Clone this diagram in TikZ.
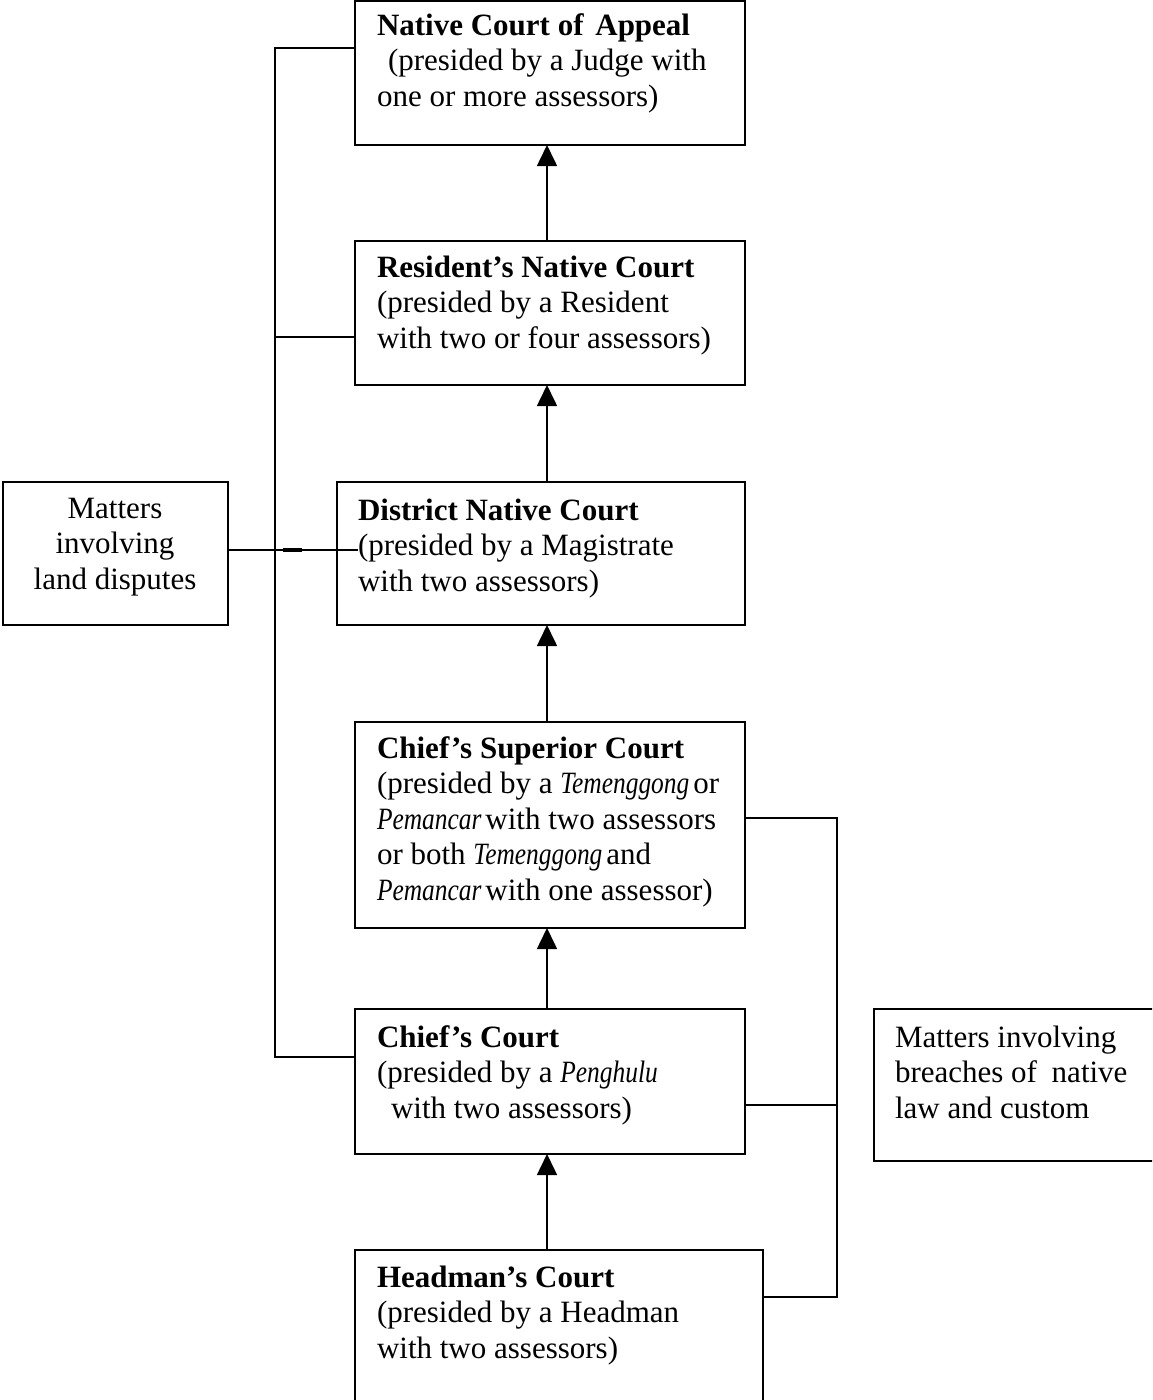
\documentclass[tikz,border=0pt]{standalone}
\usepackage{fontspec}
\setmainfont{Liberation Serif}
\usepackage{graphicx}
\usetikzlibrary{arrows.meta}
\newcommand\cellstack[1]{\begin{tabular}[t]{@{}l@{}}#1\end{tabular}}
\newcommand\cellstackc[1]{\begin{tabular}[t]{@{}c@{}}#1\end{tabular}}
\newcommand\itn[1]{\scalebox{0.82}[1]{\itshape #1}}
\begin{document}
\begin{tikzpicture}[x=1pt,y=-1pt,
  every node/.style={font=\fontsize{31}{35.5}\selectfont},
  courtbox/.style={draw, line width=1.6pt, rectangle, inner sep=0pt, outer sep=0pt, anchor=north west},
  boxtext/.style={inner sep=0pt, outer sep=0pt, anchor=base west},
  link/.style={line width=1.6pt},
  uparrow/.style={line width=1.6pt, -{Triangle[width=20pt,length=21pt]}}]
\useasboundingbox (0,0) rectangle (1152,1400);
\clip (0,0) rectangle (1152,1400);

% boxes
\node[courtbox, minimum width=390pt, minimum height=144pt] (app) at (355,1) {};
\node[courtbox, minimum width=390pt, minimum height=144pt] (res) at (355,241) {};
\node[courtbox, minimum width=408pt, minimum height=143pt] (dist) at (337,482) {};
\node[courtbox, minimum width=390pt, minimum height=206pt] (sup) at (355,722) {};
\node[courtbox, minimum width=390pt, minimum height=145pt] (chief) at (355,1009) {};
\node[courtbox, minimum width=408pt, minimum height=170pt] (head) at (355,1250) {};
\node[courtbox, minimum width=225pt, minimum height=143pt] (land) at (3,482) {};
\node[courtbox, minimum width=296pt, minimum height=152pt] (breach) at (874,1009) {};

% texts
\node[boxtext] (appt) at (377,35) {\cellstack{\textbf{Native Court of\hspace{4pt} Appeal}\\ \hspace*{11pt}(presided by a Judge with\\ one or more assessors)}};
\node[boxtext] (rest) at (377,277) {\cellstack{\textbf{Resident’s Native Court}\\ (presided by a Resident\\ with two or four assessors)}};
\node[boxtext] (distt) at (358,520) {\cellstack{\textbf{District Native Court}\\ (presided by a Magistrate\\ with two assessors)}};
\node[boxtext] (supt) at (377,758) {\cellstack{\textbf{Chief’s Superior Court}\\ (presided by a \itn{Temenggong}\hspace{4pt}or\\ \itn{Pemancar}\hspace{4pt}with two assessors\\ or both \itn{Temenggong}\hspace{4pt}and\\ \itn{Pemancar}\hspace{4pt}with one assessor)}};
\node[boxtext] (chieft) at (377,1047) {\cellstack{\textbf{Chief’s Court}\\ (presided by a \itn{Penghulu}\\ \hspace*{14pt}with two assessors)}};
\node[boxtext] (headt) at (377,1287) {\cellstack{\textbf{Headman’s Court}\\ (presided by a Headman\\ with two assessors)}};
\node[inner sep=0pt, outer sep=0pt, anchor=base] (landt) at (115,518) {\cellstackc{Matters\\ involving\\ land disputes}};
\node[boxtext] (breacht) at (895,1047) {\cellstack{Matters involving\\ breaches of\hspace{7pt} native\\ law and custom}};

% vertical arrows
\coordinate (ax) at (547,0);
\draw[uparrow] (res.north -| ax) -- (app.south -| ax);
\draw[uparrow] (dist.north -| ax) -- (res.south -| ax);
\draw[uparrow] (sup.north -| ax) -- (dist.south -| ax);
\draw[uparrow] (chief.north -| ax) -- (sup.south -| ax);
\draw[uparrow] (head.north -| ax) -- (chief.south -| ax);

% left rail
\coordinate (rtop) at (275,48);
\coordinate (rres) at (275,337);
\coordinate (rland) at (275,550);
\coordinate (rbot) at (275,1057);
\coordinate (landend) at (358,550);
\draw[link] (app.west |- rtop) -- (rtop) -- (rbot) -- (chief.west |- rbot);
\draw[link] (rres) -- (res.west |- rres);
\draw[link] (land.east |- rland) -- (landend);
\coordinate (thickA) at (283,550);
\coordinate (thickB) at (302,550);
\draw[line width=4pt] (thickA) -- (thickB);

% right rail
\coordinate (q1) at (837,818);
\coordinate (q2) at (837,1105);
\coordinate (q3) at (837,1297);
\draw[link] (sup.east |- q1) -- (q1) -- (q3) -- (head.east |- q3);
\draw[link] (chief.east |- q2) -- (q2);
\end{tikzpicture}
\end{document}
